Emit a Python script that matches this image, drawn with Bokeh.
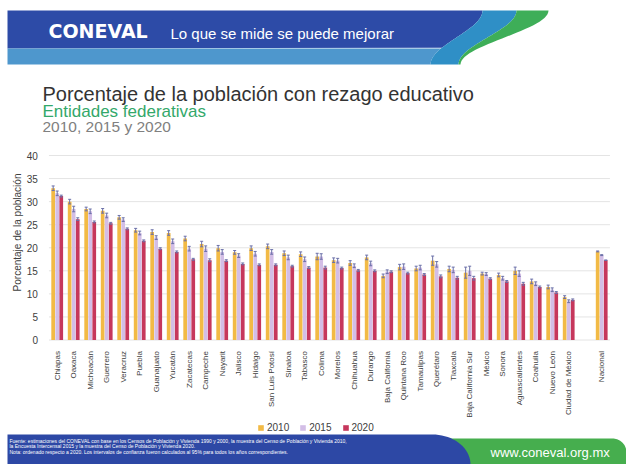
import math
import numpy as np
from bokeh.plotting import figure
from bokeh.models import (ColumnDataSource, Range1d, Legend, LegendItem, LinearAxis,
                          FixedTicker)
from bokeh.transform import dodge
from bokeh.core.properties import value
from bokeh.embed import file_html
from bokeh.resources import INLINE

# ---------------- data ----------------
states = ["Chiapas", "Oaxaca", "Michoacán", "Guerrero", "Veracruz", "Puebla", "Guanajuato",
          "Yucatán", "Zacatecas", "Campeche", "Nayarit", "Jalisco", "Hidalgo", "San Luis Potosí",
          "Sinaloa", "Tabasco", "Colima", "Morelos", "Chihuahua", "Durango", "Baja California",
          "Quintana Roo", "Tamaulipas", "Querétaro", "Tlaxcala", "Baja California Sur", "México",
          "Sonora", "Aguascalientes", "Coahuila", "Nuevo León", "Ciudad de México", "Nacional"]
v2010 = [32.9, 30.0, 28.4, 28.0, 26.6, 23.8, 23.4, 23.2, 22.0, 20.8, 19.9, 19.0, 19.9, 20.3,
         18.8, 18.6, 18.1, 17.3, 16.7, 17.9, 13.9, 15.8, 15.5, 17.2, 15.4, 14.6, 14.4, 14.1,
         15.0, 12.7, 11.5, 9.3, 19.2]
v2015 = [31.8, 28.4, 27.9, 27.0, 26.1, 23.2, 22.2, 21.4, 19.8, 19.8, 19.1, 18.3, 18.7, 19.1,
         17.9, 17.5, 18.1, 17.2, 16.1, 16.6, 14.8, 15.9, 15.7, 16.4, 15.2, 15.0, 14.3, 13.4,
         14.4, 12.2, 10.9, 8.4, 18.4]
v2020 = [31.2, 26.2, 25.6, 25.3, 24.1, 21.5, 19.8, 19.1, 17.5, 17.3, 17.2, 16.5, 16.3, 16.3,
         16.0, 15.7, 15.7, 15.6, 15.1, 15.0, 14.8, 14.5, 14.2, 13.8, 13.5, 13.4, 13.3, 12.7,
         12.2, 11.5, 10.3, 8.7, 17.3]
e2010 = [0.5, 0.5, 0.4, 0.5, 0.4, 0.4, 0.5, 0.5, 0.5, 0.6, 0.6, 0.4, 0.5, 0.5, 0.5, 0.5,
         0.7, 0.5, 0.5, 0.5, 0.4, 0.6, 0.5, 1.0, 0.6, 1.2, 0.3, 0.4, 0.8, 0.5, 0.4, 0.3, 0.1]
e2015 = [0.5, 0.6, 0.5, 0.5, 0.4, 0.4, 0.4, 0.5, 0.5, 0.6, 0.5, 0.4, 0.5, 0.5, 0.5, 0.5,
         0.6, 0.5, 0.4, 0.5, 0.4, 0.6, 0.5, 0.6, 0.6, 1.0, 0.3, 0.4, 0.6, 0.4, 0.4, 0.3, 0.1]
e2020 = [0.2, 0.3, 0.2, 0.2, 0.2, 0.2, 0.2, 0.2, 0.2, 0.3, 0.2, 0.2, 0.2, 0.2, 0.2, 0.2,
         0.3, 0.2, 0.2, 0.2, 0.2, 0.2, 0.2, 0.3, 0.3, 0.4, 0.2, 0.2, 0.3, 0.2, 0.2, 0.2, 0.05]
years = ["2010", "2015", "2020"]
colors = ["#F2BA45", "#D3BEE6", "#C6375C"]
yticks = [0, 5, 10, 15, 20, 25, 30, 35, 40]

title_txt = "Porcentaje de la población con rezago educativo"
subtitle_txt = "Entidades federativas"
years_txt = "2010, 2015 y 2020"
ylabel_txt = "Porcentaje de la población"
footer_lines = [
    "Fuente: estimaciones del CONEVAL con base en los Censos de Población y Vivienda 1990 y 2000, la muestra del Censo de Población y Vivienda 2010,",
    "la Encuesta Intercensal 2015 y la muestra del Censo de Población y Vivienda 2020.",
    "Nota: ordenado respecto a 2020. Los intervalos de confianza fueron calculados al 95% para todos los años correspondientes.",
]

FONT = "Liberation Sans"
W, H = 626, 464

# category positions: one empty slot before "Nacional"
xpos = list(range(len(states) - 1)) + [len(states)]

# chart scales: the frame covers the whole canvas
UNIT = 16.5             # px per category
X0 = 56.7               # pixel x of first category
Y0, Y40 = 339.5, 155.0  # pixel y of 0 and 40
ppu = (Y0 - Y40) / 40.0
x_range = Range1d((0 - X0) / UNIT, (W - X0) / UNIT)
y_range = Range1d(-(H - Y0) / ppu, 40 + Y40 / ppu)

p = figure(width=W, height=H, x_range=x_range, y_range=y_range,
           x_axis_location=None, y_axis_location=None,
           toolbar_location=None, output_backend="svg", outline_line_color=None,
           min_border=0)
p.grid.visible = False

# pixel coordinate system for the decorations (banners, titles, footer)
p.extra_x_ranges = {"px": Range1d(0, W)}
p.extra_y_ranges = {"py": Range1d(H, 0)}
PX = dict(x_range_name="px", y_range_name="py")

def sstep(u):
    return 0.5 - 0.5 * np.cos(np.pi * u)

yy = np.linspace(10, 64, 30)
uu = (yy - 10) / 54.0
c1 = 482 - 52 * sstep(uu)
c2 = 516 - 58 * sstep(uu)
c3 = 548 - 88 * sstep(uu)
top = yy <= 48
bot = yy >= 48

p.patch([7, 482] + list(c1[top]) + [7], [10, 10] + list(yy[top]) + [48],
        color="#2D4BA7", line_color=None, **PX)
p.patch([7, float(np.interp(48, yy, c1))] + list(c1[bot]) + [7],
        [48, 48] + list(yy[bot]) + [64], color="#4E97CD", line_color=None, **PX)
p.patch(list(c1) + list(c2[::-1]), list(yy) + list(yy[::-1]), color="#2F8FC6",
        line_color=None, **PX)
p.patch(list(c2) + list(c3[::-1]), list(yy) + list(yy[::-1]), color="#3EAE58",
        line_color=None, **PX)

th = np.linspace(0, np.pi / 2, 20)
p.patch([440, 612] + list(612 + 14 * np.sin(th)) + [626, 440],
        [438, 438] + list(452 - 14 * np.cos(th)) + [464, 464],
        color="#46AE4E", line_color=None, **PX)
p.patch([7, 432] + list(432 + 38 * np.sin(th)) + [470, 7],
        [434, 434] + list(464 - 30 * np.cos(th)) + [464, 464], color="#2D48A5",
        line_color=None, **PX)

def txt(X, Y, text, size, color, bold=False, font=FONT):
    p.text(x=[X], y=[Y], text=[text], text_font=value(font), text_font_size=size,
           text_color=color, text_font_style="bold" if bold else "normal",
           text_baseline="middle", text_align="left", **PX)

txt(48, 30, "CONEVAL", "19px", "white", bold=True, font="DejaVu Sans")
txt(170, 33, "Lo que se mide se puede mejorar", "15px", "white")
txt(42, 93, title_txt, "20px", "#333333")
txt(42, 111, subtitle_txt, "17px", "#33A86A")
txt(42, 126, years_txt, "15.5px", "#808080")
for i, line in enumerate(footer_lines):
    txt(9, 440 + 5.5 * i, line, "5px", "white")
txt(490, 452, "www.coneval.org.mx", "13px", "white")

# ---------------- chart ----------------
src = ColumnDataSource(dict(
    xi=xpos, state=states, y2010=v2010, y2015=v2015, y2020=v2020,
    lo2010=[a - b for a, b in zip(v2010, e2010)], hi2010=[a + b for a, b in zip(v2010, e2010)],
    lo2015=[a - b for a, b in zip(v2015, e2015)], hi2015=[a + b for a, b in zip(v2015, e2015)],
    lo2020=[a - b for a, b in zip(v2020, e2020)], hi2020=[a + b for a, b in zip(v2020, e2020)],
))

# horizontal gridlines across the category extent
xa, xb = -0.5, xpos[-1] + 0.5
p.segment(x0=[xa] * len(yticks), x1=[xb] * len(yticks), y0=yticks, y1=yticks,
          line_color="#E4E4E4", line_width=1)

offsets = [-0.245, 0.0, 0.245]
items = []
for yr, col, off in zip(years, colors, offsets):
    r = p.vbar(x=dodge("xi", off), top="y" + yr, bottom=0, width=0.225,
               source=src, fill_color=col, line_color=None)
    items.append(LegendItem(label=yr, renderers=[r]))
for yr, off in zip(years, offsets):
    p.segment(x0=dodge("xi", off), y0="lo" + yr, x1=dodge("xi", off), y1="hi" + yr,
              source=src, line_color="#6B70A8", line_width=1)
    for end in ("lo", "hi"):
        p.scatter(x=dodge("xi", off), y=end + yr, source=src,
                  marker="dash", size=3, line_color="#6B70A8", line_width=1)

yaxis = LinearAxis(fixed_location=xa, ticker=FixedTicker(ticks=yticks),
                   axis_label=ylabel_txt)
xaxis = LinearAxis(fixed_location=0, ticker=FixedTicker(ticks=xpos),
                   major_label_overrides={x: s for x, s in zip(xpos, states)})
for ax in (xaxis, yaxis):
    ax.axis_line_color = None
    ax.major_tick_line_color = None
    ax.minor_tick_line_color = None
    ax.major_label_text_font = FONT
    ax.major_label_text_color = "#404040"
yaxis.axis_label_text_font = FONT
yaxis.axis_label_text_font_size = "10px"
yaxis.axis_label_text_font_style = "normal"
yaxis.axis_label_text_color = "#404040"
yaxis.axis_label_standoff = 0
yaxis.major_label_standoff = 5
yaxis.major_label_text_font_size = "10px"
xaxis.major_label_text_font_size = "8px"
xaxis.major_label_orientation = math.pi / 2
xaxis.major_label_standoff = 5
p.add_layout(yaxis, "left")
p.add_layout(xaxis, "below")

legend = Legend(items=items, orientation="horizontal", location=(257, 31),
                label_text_font=FONT, label_text_font_size="10px",
                label_text_color="#404040", glyph_width=7, glyph_height=7,
                label_standoff=3, spacing=10, margin=0, padding=4,
                border_line_color=None, background_fill_alpha=0)
p.add_layout(legend, "center")

open("out.html", "w").write(file_html(p, INLINE))
